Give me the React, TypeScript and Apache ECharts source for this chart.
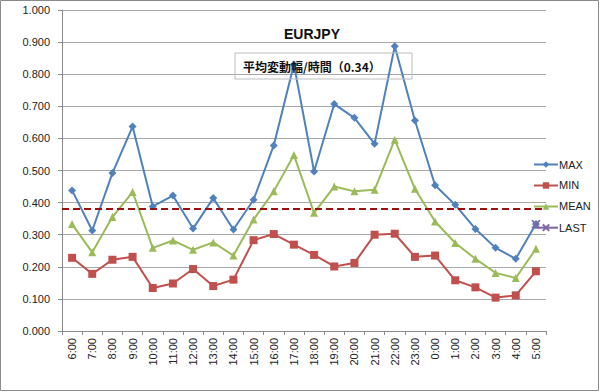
import React, { useEffect, useRef } from "react";
import * as echarts from "echarts";

const categories = ["6:00","7:00","8:00","9:00","10:00","11:00","12:00","13:00","14:00","15:00","16:00","17:00","18:00","19:00","20:00","21:00","22:00","23:00","0:00","1:00","2:00","3:00","4:00","5:00"];
const maxValues = [0.438,0.313,0.492,0.637,0.388,0.422,0.319,0.414,0.316,0.409,0.578,0.83,0.497,0.707,0.664,0.583,0.887,0.656,0.454,0.393,0.318,0.259,0.225,0.333];
const minValues = [0.228,0.178,0.222,0.231,0.134,0.148,0.193,0.140,0.160,0.283,0.302,0.269,0.237,0.201,0.212,0.300,0.303,0.231,0.235,0.158,0.136,0.104,0.111,0.186];
const meanValues = [0.333,0.245,0.355,0.433,0.259,0.282,0.253,0.276,0.235,0.347,0.435,0.548,0.368,0.450,0.435,0.440,0.596,0.443,0.341,0.274,0.225,0.181,0.165,0.256];
const lastValues = [null,null,null,null,null,null,null,null,null,null,null,null,null,null,null,null,null,null,null,null,null,null,null,0.333];
const averageLine = 0.378;
const titleText = "EURJPY";
const subtitleText = "平均変動幅/時間（0.34）";

export default function App() {
  const ref = useRef<HTMLDivElement>(null);
  useEffect(() => {
    document.body.style.margin = "0";
    const chart = echarts.init(ref.current!, null, { renderer: "svg" });
    const font = "Arial, 'Liberation Sans', 'Noto Sans CJK JP', sans-serif";
    chart.setOption({
      animation: false,
      backgroundColor: "#ffffff",
      textStyle: { fontFamily: font },
      title: {
        text: titleText,
        left: 279,
        top: 22,
        textStyle: { fontSize: 14, fontWeight: "bold", color: "#111", fontFamily: font },
      },
      graphic: [
        {
          type: "rect",
          shape: { x: 0.5, y: 0.5, width: 598, height: 390 },
          style: { fill: "none", stroke: "#8a8a8a", lineWidth: 1 },
          z: 100,
        },
        {
          type: "rect",
          shape: { x: 235, y: 53, width: 177, height: 26 },
          style: { fill: "none", stroke: "#bdbdbd", lineWidth: 1 },
          z: 50,
        },
        {
          type: "text",
          x: 243,
          y: 66,
          style: {
            text: subtitleText,
            fill: "#111",
            font: "bold 12px 'Noto Sans CJK JP', sans-serif",
            verticalAlign: "middle",
          },
          z: 51,
        },
      ],
      legend: {
        orient: "vertical",
        left: 533,
        top: 159,
        padding: 0,
        itemGap: 10,
        itemWidth: 24,
        itemHeight: 8,
        textStyle: { fontSize: 11, color: "#222", padding: [0, 0, 0, -4] },
        data: ["MAX", "MIN", "MEAN", "LAST"],
      },
      grid: { left: 62, right: 54, top: 10, bottom: 61 },
      xAxis: {
        type: "category",
        data: categories,
        boundaryGap: true,
        axisLine: { lineStyle: { color: "#8a8a8a" } },
        axisTick: { show: true, length: 4, lineStyle: { color: "#8a8a8a" } },
        axisLabel: { rotate: 90, fontSize: 11, color: "#222", margin: 7, interval: 0 },
      },
      yAxis: {
        type: "value",
        min: 0,
        max: 1,
        interval: 0.1,
        axisLine: { show: true, lineStyle: { color: "#8a8a8a" } },
        axisTick: { show: true, length: 4, lineStyle: { color: "#8a8a8a" } },
        splitLine: { lineStyle: { color: "#a8a8a8", width: 1 } },
        axisLabel: { fontSize: 11, color: "#222", margin: 12, formatter: (v: number) => v.toFixed(3) },
      },
      series: [
        {
          name: "MAX",
          type: "line",
          data: maxValues,
          symbol: "diamond",
          symbolSize: 8,
          lineStyle: { color: "#4F81BD", width: 2 },
          itemStyle: { color: "#4F81BD" },
          z: 4,
        },
        {
          name: "MIN",
          type: "line",
          data: minValues,
          symbol: "rect",
          symbolSize: 8,
          lineStyle: { color: "#C0504D", width: 2 },
          itemStyle: { color: "#C0504D" },
          z: 3,
          markLine: {
            silent: true,
            symbol: "none",
            label: { show: false },
            lineStyle: { color: "#9b0f0f", type: [7, 4], width: 2 },
            data: [{ yAxis: averageLine }],
          },
        },
        {
          name: "MEAN",
          type: "line",
          data: meanValues,
          symbol: "triangle",
          symbolSize: 8,
          lineStyle: { color: "#9BBB59", width: 2 },
          itemStyle: { color: "#9BBB59" },
          z: 2,
        },
        {
          name: "LAST",
          type: "line",
          data: lastValues,
          symbol: "path://M0,0L10,10M10,0L0,10",
          symbolSize: 8,
          showAllSymbol: true,
          lineStyle: { color: "#8064A2", width: 2 },
          itemStyle: { color: "none", borderColor: "#8064A2", borderWidth: 1.5 },
          z: 5,
        },
      ],
    });
    return () => chart.dispose();
  }, []);
  return <div ref={ref} style={{ position: "absolute", left: 0, top: 0, width: 600, height: 392 }} />;
}
